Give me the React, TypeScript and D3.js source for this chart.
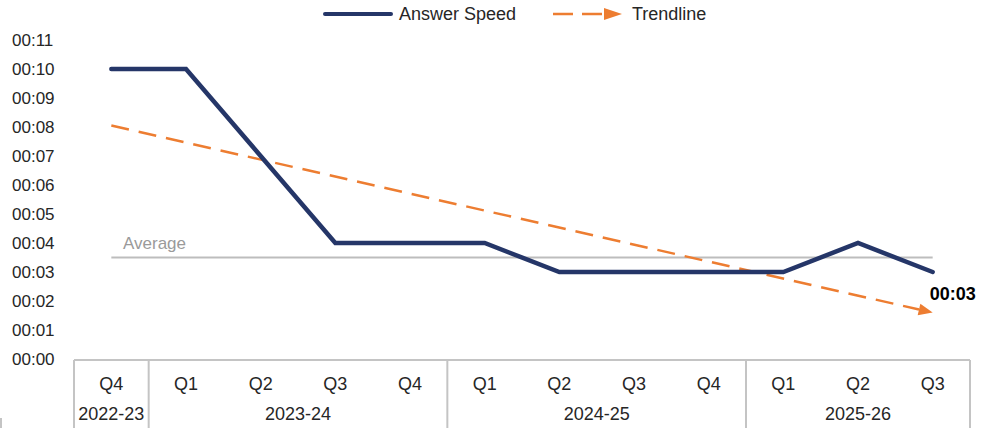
import React from "react";
import * as d3 from "d3";

const quarters = ["Q4", "Q1", "Q2", "Q3", "Q4", "Q1", "Q2", "Q3", "Q4", "Q1", "Q2", "Q3"];
const years = ["2022-23", "2023-24", "2024-25", "2025-26"];
const yearSpans = [1, 4, 4, 3];
const answerSpeed = [10, 10, 7, 4, 4, 4, 3, 3, 3, 3, 4, 3];
const trendline = [8.05, 1.6];
const averageValue = 3.5;
const yTicks = [0, 1, 2, 3, 4, 5, 6, 7, 8, 9, 10, 11];
const lastLabel = "00:03";

const W = 984;
const H = 428;
const plotLeft = 74;
const plotRight = 970;
const plotBottom = 359;
const plotTop = 40;

const NAVY = "#253668";
const ORANGE = "#ED7D31";
const GRID = "#C4C4C4";
const TEXT = "#262626";
const FONT = "'Liberation Sans', Arial, sans-serif";

const fmt = (s: number) => `00:${String(s).padStart(2, "0")}`;

export default function App() {
  const x = d3
    .scaleBand<number>()
    .domain(d3.range(quarters.length))
    .range([plotLeft, plotRight]);
  const y = d3.scaleLinear().domain([0, 11]).range([plotBottom, plotTop]);
  const cx = (i: number) => (x(i) as number) + x.bandwidth() / 2;

  const line = d3
    .line<number>()
    .x((_, i) => cx(i))
    .y((d) => y(d));

  const n = quarters.length;
  const tx0 = cx(0);
  const tx1 = cx(n - 1);
  const ty0 = y(trendline[0]);
  const ty1 = y(trendline[1]);
  const ang = Math.atan2(ty1 - ty0, tx1 - tx0);
  const arrowLen = 14;
  const arrowHalf = 6;
  const baseX = tx1 - arrowLen * Math.cos(ang);
  const baseY = ty1 - arrowLen * Math.sin(ang);
  const px = -Math.sin(ang) * arrowHalf;
  const py = Math.cos(ang) * arrowHalf;

  // year boundaries
  let acc = 0;
  const boundaries: number[] = [plotLeft];
  const yearCenters: number[] = [];
  yearSpans.forEach((s) => {
    const start = x(acc) as number;
    const end = (x(acc + s - 1) as number) + x.bandwidth();
    yearCenters.push((start + end) / 2);
    boundaries.push(end);
    acc += s;
  });

  return (
    <svg
      width={W}
      height={H}
      style={{ position: "absolute", left: 0, top: 0, background: "#fff" }}
      fontFamily={FONT}
    >
      {/* Legend */}
      <g>
        <line x1={325} y1={14} x2={391} y2={14} stroke={NAVY} strokeWidth={4} strokeLinecap="round" />
        <text x={399} y={20} fontSize={18} fill={TEXT}>Answer Speed</text>
        <line x1={553} y1={14} x2={606} y2={14} stroke={ORANGE} strokeWidth={2.5} strokeDasharray="20 9" />
        <path d="M604,8 L622,14 L604,20 Z" fill={ORANGE} />
        <text x={632} y={20} fontSize={18} fill={TEXT}>Trendline</text>
      </g>

      {/* Y tick labels */}
      {yTicks.map((t) => (
        <text key={t} x={12} y={y(t) + 6} fontSize={17} fill={TEXT}>
          {fmt(t)}
        </text>
      ))}

      {/* Average */}
      <line x1={tx0} x2={tx1} y1={y(averageValue)} y2={y(averageValue)} stroke="#BDBDBD" strokeWidth={2} />
      <text x={123} y={y(averageValue) - 9} fontSize={17} fill="#9A9A9A">Average</text>

      {/* Trendline */}
      <line
        x1={tx0}
        y1={ty0}
        x2={baseX}
        y2={baseY}
        stroke={ORANGE}
        strokeWidth={2.5}
        strokeDasharray="18 10"
      />
      <path
        d={`M${tx1},${ty1} L${baseX + px},${baseY + py} L${baseX - px},${baseY - py} Z`}
        fill={ORANGE}
      />

      {/* Main line */}
      <path
        d={line(answerSpeed) || ""}
        fill="none"
        stroke={NAVY}
        strokeWidth={4.5}
        strokeLinejoin="miter"
        strokeLinecap="round"
      />

      {/* Last value label */}
      <text
        x={cx(n - 1) + 20}
        y={y(answerSpeed[n - 1]) + 28}
        fontSize={18}
        fontWeight="bold"
        fill="#000"
        textAnchor="middle"
      >
        {lastLabel}
      </text>

      {/* X axis box */}
      <line x1={plotLeft} x2={plotRight} y1={plotBottom + 1} y2={plotBottom + 1} stroke={GRID} strokeWidth={2} />
      {boundaries.map((b, i) => (
        <line key={i} x1={b} x2={b} y1={plotBottom + 1} y2={H} stroke={GRID} strokeWidth={2} />
      ))}
      {quarters.map((q, i) => (
        <text key={i} x={cx(i)} y={390} fontSize={18} fill={TEXT} textAnchor="middle">
          {q}
        </text>
      ))}
      {years.map((yr, i) => (
        <text key={yr} x={yearCenters[i]} y={420} fontSize={18} fill={TEXT} textAnchor="middle">
          {yr}
        </text>
      ))}
      <line x1={1} x2={1} y1={418} y2={H} stroke={GRID} strokeWidth={2} />
    </svg>
  );
}
